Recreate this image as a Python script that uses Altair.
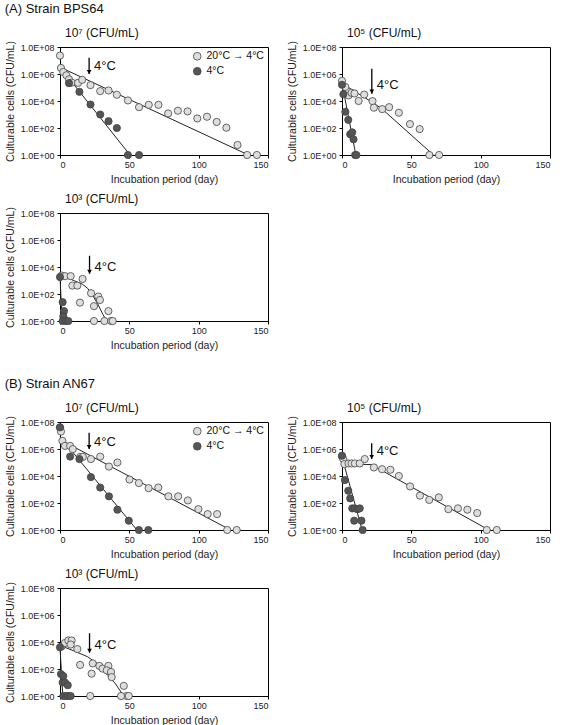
import altair as alt
import pandas as pd

FONT = "Liberation Sans"
LIGHT_LBL = "20°C → 4°C"
DARK_LBL = "4°C"

# ---------------- data (days, CFU/mL) ----------------
# (A) BPS64, 10^7
a1_light_d = [0, 0.7, 2.4, 4.6, 6.5, 8.5, 13, 16, 22, 29, 35, 41, 49, 57, 64, 71, 78, 85, 92, 99, 106, 113, 120, 128, 135, 142]
a1_light_v = [2.3e7, 2.8e6, 1.4e6, 8e5, 4e5, 2.3e5, 2.2e5, 3.7e5, 1.5e5, 5.4e4, 6e4, 2.9e4, 1.1e4, 3.5e3, 5.2e3, 5.2e3, 1.2e3, 1.9e3, 1.7e3, 5.1e2, 6.8e2, 2.8e2, 1.05e2, 5.5, 1, 1]
a1_dark_d = [6.5, 14, 22, 29, 35, 41, 49, 57]
a1_dark_v = [2.1e5, 4.8e4, 5.5e3, 1e3, 3.2e2, 1e2, 1, 1]
a1_fit_light_d = [0, 136]
a1_fit_light_v = [3.2e6, 1]
a1_fit_dark_d = [0, 50.5]
a1_fit_dark_v = [3.2e6, 1]

# (A) BPS64, 10^5
a2_light_d = [0, 2.4, 4.7, 6.9, 9, 12, 16, 22, 23, 29, 34, 41, 49, 56, 63, 70]
a2_light_v = [3.1e5, 1.1e5, 2.6e4, 4e4, 3.6e4, 1e4, 3e4, 9.8e3, 3.2e3, 2.5e3, 3.5e3, 1.35e3, 1.95e2, 83, 1, 1]
a2_dark_d = [0, 1, 2.4, 4.5, 5.9, 7.4, 8.3, 9.5, 10.4]
a2_dark_v = [1.6e5, 3.2e4, 1.6e3, 4e2, 34, 48, 14.5, 1, 1]
a2_fit_light_d = [0, 21, 29, 66]
a2_fit_light_v = [2e5, 9e3, 2.5e3, 1]
a2_fit_dark_d = [0, 10]
a2_fit_dark_v = [2e5, 1]

# (A) BPS64, 10^3
a3_light_d = [1.2, 3.6, 7.7, 8.9, 12.5, 16.3, 22.4, 27.6, 28.8, 14.4, 24.5, 34.9, 32, 36.8, 24.5, 38]
a3_light_v = [2.3e3, 2.1e3, 2.1e3, 4.2e2, 4.2e2, 1.3e3, 1.15e2, 65, 36, 23, 12.6, 5.4, 1, 1, 1, 1]
a3_dark_d = [0, 1.9, 2.9, 2.4, 1.9, 4.3, 6]
a3_dark_v = [1.8e3, 25, 5.4, 2.2, 1, 1, 1]
a3_fit_light_d = [0, 8, 16, 20, 23, 27, 31, 33.5]
a3_fit_light_v = [2.1e3, 1.2e3, 5.5e2, 2.6e2, 1e2, 20, 3, 1]
a3_fit_dark_d = [0, 1.5]
a3_fit_dark_v = [2e3, 1]

# (B) AN67, 10^7
b1_light_d = [0, 0.7, 1.7, 3.6, 7.3, 9.2, 14.5, 16.5, 22.3, 29, 35.3, 41.4, 50.1, 56.9, 63.9, 70.9, 78.2, 85.2, 92.2, 99.8, 106.5, 113.3, 120.6, 127.4]
b1_light_v = [3.9e7, 1.95e7, 4e6, 1.7e6, 1.7e6, 9.8e5, 2.6e5, 2.6e5, 1.8e5, 2.75e5, 5e4, 1e5, 5.5e3, 3e3, 1.26e3, 1.4e3, 3.1e2, 3.1e2, 1.55e2, 35, 15, 15, 1, 1]
b1_dark_d = [0, 7.3, 14, 22.3, 29, 35.3, 41.4, 49.6, 56.9, 63.7]
b1_dark_v = [4e7, 2.75e5, 1.8e5, 8.3e3, 1.4e3, 3.1e2, 32, 4.9, 1, 1]
b1_fit_light_d = [0, 123]
b1_fit_light_v = [5e6, 1]
b1_fit_dark_d = [0, 55.5]
b1_fit_dark_v = [8e6, 1]

# (B) AN67, 10^5
b2_light_d = [0, 0.9, 1.7, 4.7, 6.9, 9.3, 12.8, 16.4, 23, 28.9, 34.9, 41, 49.1, 56.2, 62.9, 69.8, 76.7, 83.6, 90.4, 97.5, 104.4, 111.6]
b2_light_v = [2.75e5, 1.8e5, 7.6e4, 8.5e4, 8.5e4, 8.5e4, 8.5e4, 1.8e5, 4.3e4, 3.2e4, 2.9e4, 1e4, 1.7e3, 3.5e2, 1.7e2, 2.6e2, 35, 40, 32, 18, 1, 1]
b2_dark_d = [0, 2.1, 4.5, 5.9, 7.4, 9.3, 11.2, 12.8, 8.8, 14, 14.9]
b2_dark_v = [3.2e5, 5e3, 8.1e2, 2.2e2, 40, 40, 35, 40, 4.9, 4.9, 1]
b2_fit_light_d = [0, 21, 106]
b2_fit_light_v = [8e4, 7e4, 1]
b2_fit_dark_d = [0, 14.5]
b2_fit_dark_v = [2.5e5, 1]

# (B) AN67, 10^3
b3_light_d = [1.2, 3.6, 6, 8.4, 7.7, 12.5, 14.5, 23.6, 22.8, 28.4, 30.7, 34.9, 33.7, 36.8, 37.3, 46, 48, 21.8, 44, 49.6]
b3_light_v = [4.8e3, 8.5e3, 1.3e4, 1.3e4, 6.5e3, 3e3, 2e2, 2.6e2, 45, 1.7e2, 1.07e2, 1.7e2, 80, 60, 25, 5.6, 1, 1, 1, 1]
b3_dark_d = [0, 0.7, 1.9, 2.4, 3.6, 5.6, 2.4, 4.4, 6, 7.7]
b3_dark_v = [4e3, 42, 10, 30, 10, 6.3, 1, 1, 1, 1]
b3_fit_light_d = [0, 10, 20, 27, 33, 40, 46]
b3_fit_light_v = [5.6e3, 2.2e3, 8e2, 2.5e2, 50, 8, 1]
b3_fit_dark_d = [0, 2]
b3_fit_dark_v = [4e3, 1]

# arrows "4°C": day, top value, bottom value, label value
a1_arrow = [21, 1.6e7, 1e6, 4e6]
a2_arrow = [21.5, 2.5e6, 3.5e4, 1.6e5]
a3_arrow = [21.3, 6.8e4, 3.2e3, 1e4]
b1_arrow = [21, 1.6e7, 1e6, 3.5e6]
b2_arrow = [21.4, 2.7e6, 1.8e5, 7.4e5]
b3_arrow = [21.3, 4.5e4, 1.6e3, 6.3e3]

titles = ["10⁷ (CFU/mL)", "10⁵ (CFU/mL)", "10³ (CFU/mL)"]

W, H = 208, 108
XSC = alt.Scale(domain=[0, 150], nice=False)
YSC = alt.Scale(type="log", domain=[1, 1e8], nice=False)


def panel(ld, lv, dd, dv, fld, flv, fdd, fdv, arrow, title, legend):
    pts = pd.DataFrame({
        "day": ld + dd,
        "cfu": lv + dv,
        "series": [LIGHT_LBL] * len(ld) + [DARK_LBL] * len(dd),
    })
    fits = pd.DataFrame({
        "day": fld + fdd,
        "cfu": flv + fdv,
        "series": [LIGHT_LBL] * len(fld) + [DARK_LBL] * len(fdd),
    })
    arr = pd.DataFrame({"day": [arrow[0]], "top": [arrow[1]], "bot": [arrow[2]],
                        "lab": [arrow[3]], "txt": ["4°C"]})

    xenc = alt.X("day:Q", scale=XSC, title="Incubation period (day)",
                 axis=alt.Axis(values=[0, 25, 50, 75, 100, 125, 150]))
    yenc = alt.Y("cfu:Q", scale=YSC, title="Culturable cells (CFU/mL)",
                 axis=alt.Axis(values=[1, 1e2, 1e4, 1e6, 1e8],
                               labelExpr="'1.0E+0' + round(log(datum.value)/LN10)"))

    lines = alt.Chart(fits).mark_line(color="#222", strokeWidth=1).encode(
        x=xenc, y=yenc, detail="series:N")

    leg = alt.Legend(title=None, orient="top-right", offset=4, labelFontSize=10.5,
                     labelFont=FONT, symbolSize=60, symbolStrokeColor="#444",
                     symbolStrokeWidth=0.8, rowPadding=3, labelColor="#111") if legend else None
    points = alt.Chart(pts).mark_point(filled=True, size=52, stroke="#444",
                                        strokeWidth=0.8, opacity=1, shape="circle").encode(
        x="day:Q", y="cfu:Q",
        fill=alt.Fill("series:N", sort=[LIGHT_LBL, DARK_LBL],
                      scale=alt.Scale(domain=[LIGHT_LBL, DARK_LBL], range=["#dedede", "#555555"]),
                      legend=leg),
        order=alt.Order("o:Q"),
    ).transform_calculate(o="datum.series == '%s' ? 0 : 1" % LIGHT_LBL)

    rule = alt.Chart(arr).mark_rule(color="black", strokeWidth=1.3).encode(
        x="day:Q", y="top:Q", y2="bot:Q")
    head = alt.Chart(arr).mark_point(shape="triangle-down", filled=True, color="black",
                                     size=22, opacity=1, yOffset=-2).encode(x="day:Q", y="bot:Q")
    lab = alt.Chart(arr).mark_text(align="left", baseline="middle", dx=5, fontSize=13,
                                   font=FONT, color="#111").encode(x="day:Q", y="lab:Q", text="txt:N")

    return alt.layer(lines, points, rule, head, lab).properties(
        width=W, height=H,
        title=alt.TitleParams(title, anchor="start", frame="group", fontSize=12,
                              fontWeight="normal", font=FONT, offset=1, dx=5, color="#111"),
    ).resolve_scale(fill="independent")


A1 = panel(a1_light_d, a1_light_v, a1_dark_d, a1_dark_v, a1_fit_light_d, a1_fit_light_v,
           a1_fit_dark_d, a1_fit_dark_v, a1_arrow, titles[0], True)
A2 = panel(a2_light_d, a2_light_v, a2_dark_d, a2_dark_v, a2_fit_light_d, a2_fit_light_v,
           a2_fit_dark_d, a2_fit_dark_v, a2_arrow, titles[1], False)
A3 = panel(a3_light_d, a3_light_v, a3_dark_d, a3_dark_v, a3_fit_light_d, a3_fit_light_v,
           a3_fit_dark_d, a3_fit_dark_v, a3_arrow, titles[2], False)
B1 = panel(b1_light_d, b1_light_v, b1_dark_d, b1_dark_v, b1_fit_light_d, b1_fit_light_v,
           b1_fit_dark_d, b1_fit_dark_v, b1_arrow, titles[0], True)
B2 = panel(b2_light_d, b2_light_v, b2_dark_d, b2_dark_v, b2_fit_light_d, b2_fit_light_v,
           b2_fit_dark_d, b2_fit_dark_v, b2_arrow, titles[1], False)
B3 = panel(b3_light_d, b3_light_v, b3_dark_d, b3_dark_v, b3_fit_light_d, b3_fit_light_v,
           b3_fit_dark_d, b3_fit_dark_v, b3_arrow, titles[2], False)

sec = dict(anchor="start", fontSize=13, fontWeight="normal", font=FONT, color="#111", offset=10)

rowA = alt.hconcat(A1, A2, spacing=17).resolve_scale(fill="independent")
rowB = alt.hconcat(B1, B2, spacing=17).resolve_scale(fill="independent")

blockA = alt.vconcat(rowA, A3, spacing=7).properties(
    title=alt.TitleParams("(A) Strain BPS64", **sec)).resolve_scale(fill="independent")
blockB = alt.vconcat(rowB, B3, spacing=7).properties(
    title=alt.TitleParams("(B) Strain AN67", **sec)).resolve_scale(fill="independent")

chart = alt.vconcat(blockA, blockB, spacing=27).resolve_scale(fill="independent").properties(
    padding={"left": 4, "top": 3, "right": 2, "bottom": 0}
).configure_view(stroke="black", strokeWidth=1).configure_axis(
    grid=False, domainColor="black", tickColor="black", tickSize=3,
    labelFont=FONT, labelFontSize=9, labelColor="#222",
    titleFont=FONT, titleFontSize=10.5, titleFontWeight="normal", titleColor="#222",
    labelPadding=2, titlePadding=5,
).configure_axisY(labelPadding=3)

chart.save("out.html", embed_options={"renderer": "svg", "actions": False})
